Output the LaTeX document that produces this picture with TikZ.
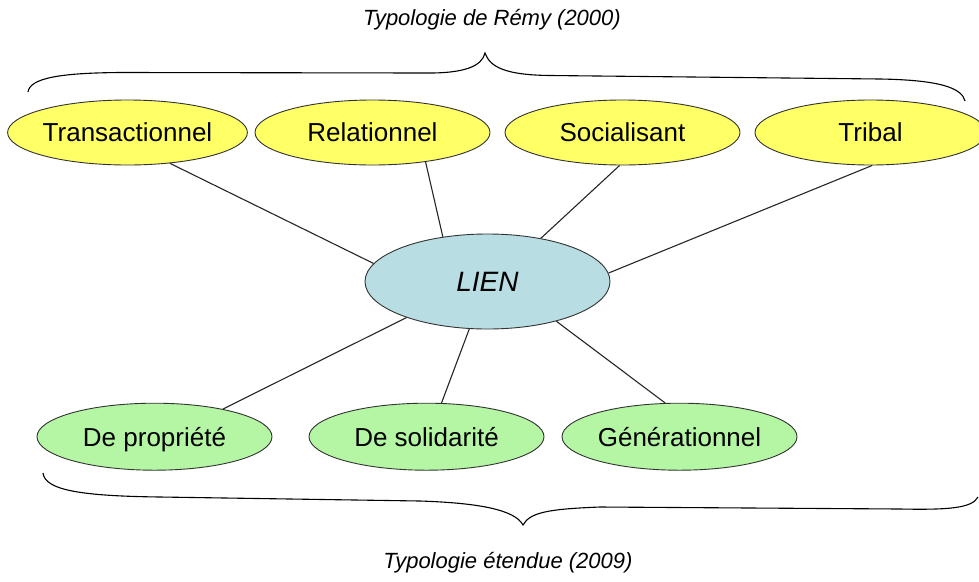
\documentclass[tikz,border=0pt]{standalone}
\usepackage{fontspec}
\setmainfont{Liberation Sans}
\usetikzlibrary{shapes.geometric}
\definecolor{remyyellow}{RGB}{255,255,102}
\definecolor{etendgreen}{RGB}{180,246,164}
\definecolor{lienblue}{RGB}{184,222,228}

\begin{document}
\begin{tikzpicture}[%
      x=1pt, y=-1pt,
      remy/.style={ellipse, draw=black!80, line width=0.9pt, fill=remyyellow,
        minimum width=235pt, minimum height=65pt, inner sep=0pt,
        text height=18.6pt, text depth=0pt,
        font=\fontsize{26}{30}\selectfont},
      etendue/.style={ellipse, draw=black!80, line width=0.9pt, fill=etendgreen,
        minimum width=235pt, minimum height=67pt, inner sep=0pt,
        text height=18.6pt, text depth=0pt,
        font=\fontsize{26}{30}\selectfont},
      lienbox/.style={ellipse, draw=black!80, line width=0.9pt, fill=lienblue,
        minimum width=245pt, minimum height=95pt, inner sep=0pt,
        text height=20pt, text depth=0pt,
        font=\fontsize{28}{32}\selectfont\itshape},
      link/.style={draw=black!85, line width=1.1pt},
      accolade/.style={draw=black, line width=1.1pt},
      titre/.style={font=\fontsize{22}{26}\selectfont\itshape},
      ]
      \useasboundingbox (0,0) rectangle (979,581);

      % titres
      \node [titre] (titleremy) at (492,20) {Typologie de Rémy (2000)};
      \node [titre] (titleetendue) at (508,563) {Typologie étendue (2009)};

      % accolades
      \draw [accolade] (28,92) .. controls (30,78) and (60,73) .. (120,72.5)
        -- (425,73) .. controls (465,73.5) and (482,66) .. (485,53)
        .. controls (490,67) and (505,75) .. (550,75.5)
        -- (880,79) .. controls (940,80) and (962,88) .. (965,101);
      \draw [accolade] (43,473) .. controls (45,490) and (80,496) .. (160,497)
        -- (420,501) .. controls (480,503) and (515,510) .. (523,525)
        .. controls (530,512) and (550,509) .. (600,507)
        -- (900,509) .. controls (950,510) and (972,508) .. (978,497);

      % typologie de Remy
      \node [remy] (trans) at (127.5,132.5) {Transactionnel};
      \node [remy] (rel) at (372.5,132.5) {Relationnel};
      \node [remy] (soc) at (622.5,132.5) {Socialisant};
      \node [remy, minimum width=231pt] (trib) at (870.5,132.5) {Tribal};

      % typologie etendue
      \node [etendue] (prop) at (154.5,436.7) {De propriété};
      \node [etendue] (sol) at (426.5,436.7) {De solidarité};
      \node [etendue] (gen) at (679.5,436.7) {Générationnel};

      \node [lienbox] (lien) at (487.5,281.5) {LIEN};

      \draw [link] (trans.-36) -- (lien.171);
      \draw [link] (rel.-29) -- (lien.135);
      \draw [link] (soc.-95) -- (lien.39.5);
      \draw [link] (trib.-87) -- (lien.4.6);
      \draw [link] (prop.22) -- (lien.204);
      \draw [link] (sol.66) -- (lien.-111);
      \draw [link] (gen.113) -- (lien.-30);
      \end{tikzpicture}
\end{document}
